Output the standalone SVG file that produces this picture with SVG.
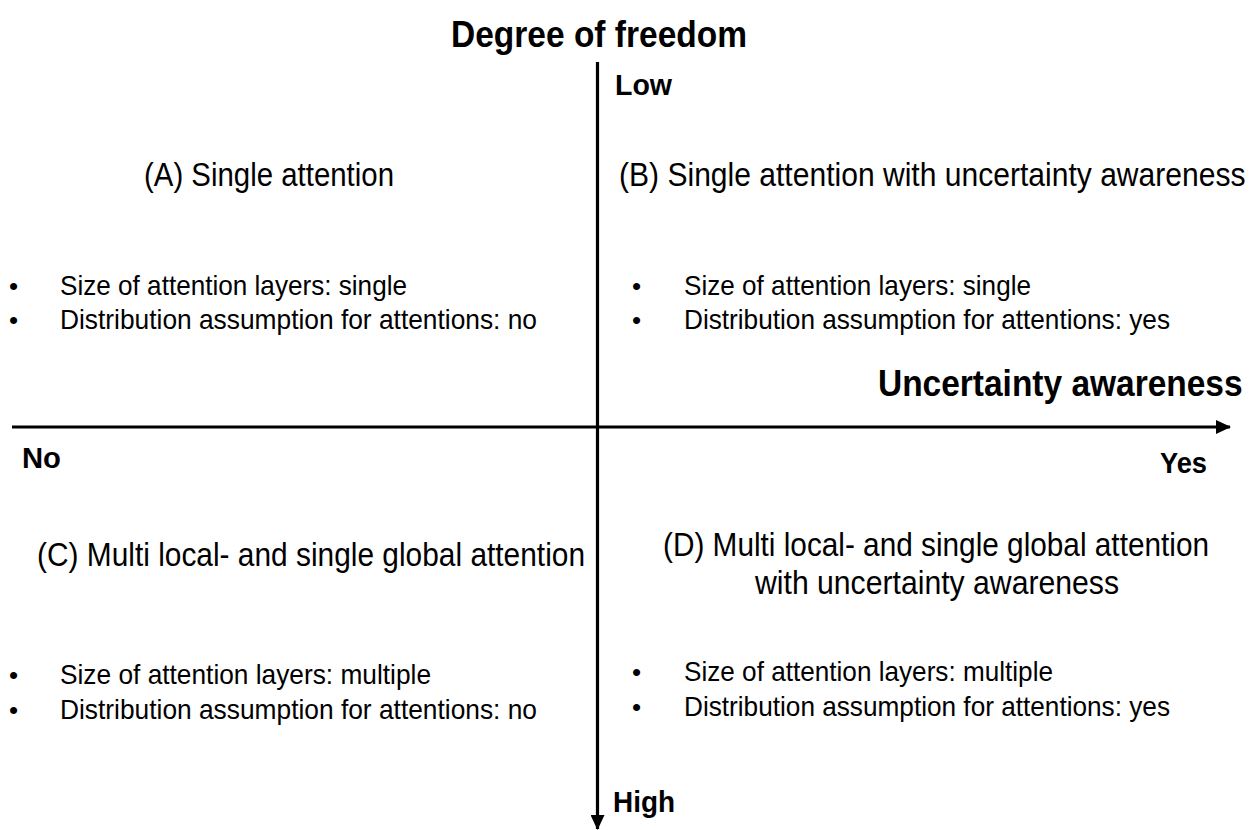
<svg xmlns="http://www.w3.org/2000/svg" width="1258" height="830" viewBox="0 0 1258 830">
  <defs>
    <marker id="arrow" markerUnits="userSpaceOnUse" markerWidth="15" markerHeight="14" refX="14" refY="7" orient="auto">
      <path d="M0,0 L15,7 L0,14 z" fill="#000"/>
    </marker>
    <style>
      text { font-family: "Liberation Sans", Arial, sans-serif; fill: #000; }
      .axis { font-weight: bold; font-size: 37px; }
      .end { font-weight: bold; font-size: 30px; }
      .head { font-size: 32.5px; }
      .item { font-size: 28.5px; }
      .dot { font-size: 26px; }
      .ax { stroke: #000; stroke-width: 3.2; fill: none; }
    </style>
  </defs>
  <rect width="1258" height="830" fill="#fff"/>

  <g id="connectors">
    <line class="ax" x1="12" y1="427" x2="1230" y2="427" marker-end="url(#arrow)"/>
    <line class="ax" x1="597.5" y1="62" x2="597.5" y2="829" marker-end="url(#arrow)"/>
  </g>

  <g id="axis-labels">
    <text class="axis" x="451" y="47" textLength="296" lengthAdjust="spacingAndGlyphs">Degree of freedom</text>
    <text class="end" x="615" y="95" textLength="57" lengthAdjust="spacingAndGlyphs">Low</text>
    <text class="end" x="613" y="812" textLength="62" lengthAdjust="spacingAndGlyphs">High</text>
    <text class="axis" transform="translate(878,396) scale(0.905,1)" x="0" y="0">Uncertainty awareness</text>
    <text class="end" x="22" y="468" textLength="39" lengthAdjust="spacingAndGlyphs">No</text>
    <text class="end" x="1160" y="473" textLength="47" lengthAdjust="spacingAndGlyphs">Yes</text>
  </g>

  <g id="quadrant-A">
    <text class="head" x="144" y="186" textLength="250" lengthAdjust="spacingAndGlyphs">(A) Single attention</text>
    <text class="dot" x="9" y="295">•</text>
    <text class="item" x="60" y="295" textLength="347" lengthAdjust="spacingAndGlyphs">Size of attention layers: single</text>
    <text class="dot" x="9" y="329">•</text>
    <text class="item" x="60" y="329" textLength="477" lengthAdjust="spacingAndGlyphs">Distribution assumption for attentions: no</text>
  </g>

  <g id="quadrant-B">
    <text class="head" transform="translate(619,186) scale(0.925,1)" x="0" y="0">(B) Single attention with uncertainty awareness</text>
    <text class="dot" x="632" y="295">•</text>
    <text class="item" x="684" y="295" textLength="347" lengthAdjust="spacingAndGlyphs">Size of attention layers: single</text>
    <text class="dot" x="632" y="329">•</text>
    <text class="item" x="684" y="329" textLength="486" lengthAdjust="spacingAndGlyphs">Distribution assumption for attentions: yes</text>
  </g>

  <g id="quadrant-C">
    <text class="head" x="37" y="566" textLength="548" lengthAdjust="spacingAndGlyphs">(C) Multi local- and single global attention</text>
    <text class="dot" x="9" y="684">•</text>
    <text class="item" x="60" y="684" textLength="371" lengthAdjust="spacingAndGlyphs">Size of attention layers: multiple</text>
    <text class="dot" x="9" y="719">•</text>
    <text class="item" x="60" y="719" textLength="477" lengthAdjust="spacingAndGlyphs">Distribution assumption for attentions: no</text>
  </g>

  <g id="quadrant-D">
    <text class="head" x="663" y="556" textLength="546" lengthAdjust="spacingAndGlyphs">(D) Multi local- and single global attention</text>
    <text class="head" x="755" y="594" textLength="364" lengthAdjust="spacingAndGlyphs">with uncertainty awareness</text>
    <text class="dot" x="632" y="681">•</text>
    <text class="item" x="684" y="681" textLength="369" lengthAdjust="spacingAndGlyphs">Size of attention layers: multiple</text>
    <text class="dot" x="632" y="716">•</text>
    <text class="item" x="684" y="716" textLength="486" lengthAdjust="spacingAndGlyphs">Distribution assumption for attentions: yes</text>
  </g>
</svg>
